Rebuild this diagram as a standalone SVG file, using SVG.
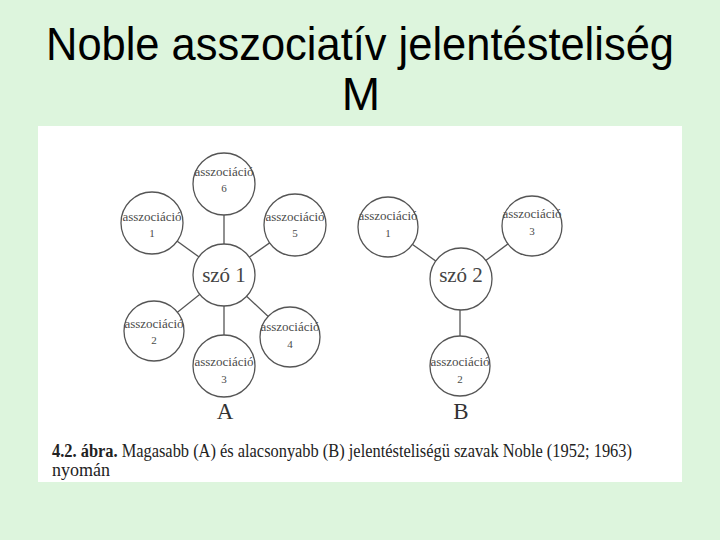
<svg xmlns="http://www.w3.org/2000/svg" width="720" height="540" viewBox="0 0 720 540">
<style>
.title{font-family:"Liberation Sans",Arial,sans-serif;font-size:46px;fill:#000;text-anchor:middle}
.node circle{fill:#fff;stroke:#555;stroke-width:1.3}
.lbl{font-family:"Liberation Serif","Times New Roman",serif;font-size:13px;fill:#4a4a4a;text-anchor:middle}
.num{font-family:"Liberation Serif","Times New Roman",serif;font-size:11px;fill:#4a4a4a;text-anchor:middle}
.word{font-family:"Liberation Serif","Times New Roman",serif;font-size:21px;fill:#444;text-anchor:middle}
.big{font-family:"Liberation Serif","Times New Roman",serif;font-size:23px;fill:#333;text-anchor:middle}
.cap{font-family:"Liberation Serif","Times New Roman",serif;font-size:18px;fill:#222}
#connectors line{stroke:#555;stroke-width:1.3}
</style>
<rect x="0" y="0" width="720" height="540" fill="#ddf5dd"/>
<text class="title" x="360" y="60" textLength="628" lengthAdjust="spacingAndGlyphs">Noble asszociatív jelentésteliség</text>
<text class="title" x="361" y="110">M</text>
<rect x="38" y="126" width="644" height="356" fill="#fff"/>
<g id="connectors">
<line x1="224" y1="275" x2="224" y2="184"/>
<line x1="224" y1="275" x2="152" y2="223"/>
<line x1="224" y1="275" x2="295" y2="225"/>
<line x1="224" y1="275" x2="154" y2="331"/>
<line x1="224" y1="275" x2="290" y2="337"/>
<line x1="224" y1="275" x2="224" y2="366"/>
<line x1="461" y1="279" x2="388" y2="227"/>
<line x1="461" y1="279" x2="532" y2="226"/>
<line x1="460" y1="279" x2="460" y2="366"/>
</g>
<g id="szo1" class="node"><circle cx="224" cy="275" r="31"/><text class="word" x="224" y="282">szó 1</text></g>
<g id="a6" class="node"><circle cx="224" cy="184" r="31"/><text class="lbl" x="224" y="176">asszociáció</text><text class="num" x="224" y="192">6</text></g>
<g id="a1" class="node"><circle cx="152" cy="223" r="31"/><text class="lbl" x="152" y="221">asszociáció</text><text class="num" x="152" y="237">1</text></g>
<g id="a5" class="node"><circle cx="295" cy="225" r="31"/><text class="lbl" x="295" y="221">asszociáció</text><text class="num" x="295" y="237">5</text></g>
<g id="a2" class="node"><circle cx="154" cy="331" r="30"/><text class="lbl" x="154" y="328">asszociáció</text><text class="num" x="154" y="344">2</text></g>
<g id="a4" class="node"><circle cx="290" cy="337" r="30"/><text class="lbl" x="290" y="331">asszociáció</text><text class="num" x="290" y="348">4</text></g>
<g id="a3" class="node"><circle cx="224" cy="366" r="31"/><text class="lbl" x="224" y="366">asszociáció</text><text class="num" x="224" y="383">3</text></g>
<text class="big" x="225" y="419">A</text>
<g id="szo2" class="node"><circle cx="461" cy="279" r="31"/><text class="word" x="461" y="282">szó 2</text></g>
<g id="b1" class="node"><circle cx="388" cy="227" r="30"/><text class="lbl" x="388" y="220">asszociáció</text><text class="num" x="388" y="237">1</text></g>
<g id="b3" class="node"><circle cx="532" cy="226" r="30"/><text class="lbl" x="532" y="218">asszociáció</text><text class="num" x="532" y="235">3</text></g>
<g id="b2" class="node"><circle cx="460" cy="366" r="30"/><text class="lbl" x="460" y="366">asszociáció</text><text class="num" x="460" y="383">2</text></g>
<text class="big" x="461" y="419">B</text>
<text class="cap" x="52" y="457" textLength="580" lengthAdjust="spacingAndGlyphs"><tspan font-weight="bold">4.2. ábra.</tspan> Magasabb (A) és alacsonyabb (B) jelentésteliségü szavak Noble (1952; 1963)</text>
<text class="cap" x="52" y="476">nyomán</text>
</svg>
